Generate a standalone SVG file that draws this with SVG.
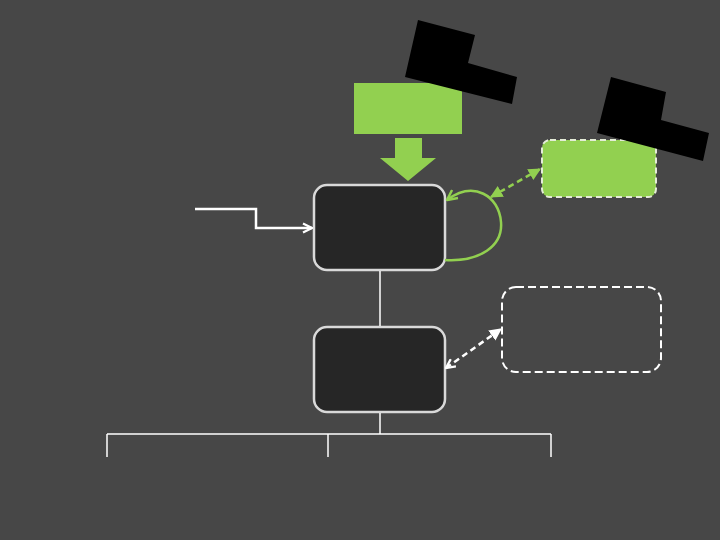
<svg xmlns="http://www.w3.org/2000/svg" width="720" height="540" viewBox="0 0 720 540">
  <defs>
    <style>
      .node { fill: #262626; stroke: #d9d9d9; stroke-width: 2.5; }
      .green { fill: #92d050; }
      .blk { fill: #000000; }
      .wline { fill: none; stroke: #ffffff; stroke-width: 1.5; }
      .conn { fill: none; stroke: #ffffff; stroke-width: 2.5; }
    </style>
    <marker id="openW" viewBox="0 0 10 10" refX="9" refY="5" markerWidth="4.5" markerHeight="4.5" orient="auto-start-reverse">
      <path d="M1,1 L9,5 L1,9" fill="none" stroke="#ffffff" stroke-width="2"/>
    </marker>
    <marker id="openG" viewBox="0 0 10 10" refX="9" refY="5" markerWidth="5" markerHeight="5" orient="auto-start-reverse">
      <path d="M1,1 L9,5 L1,9" fill="none" stroke="#92d050" stroke-width="2"/>
    </marker>
    <marker id="triG" viewBox="0 0 10 10" refX="9" refY="5" markerWidth="5" markerHeight="5" orient="auto-start-reverse">
      <path d="M0,0 L10,5 L0,10 Z" fill="#92d050"/>
    </marker>
    <marker id="triW" viewBox="0 0 10 10" refX="9" refY="5" markerWidth="5" markerHeight="5" orient="auto-start-reverse">
      <path d="M0,0 L10,5 L0,10 Z" fill="#ffffff"/>
    </marker>
  </defs>
  <rect width="720" height="540" fill="#474747"/>

  <g id="green-top">
    <rect class="green" x="354" y="83" width="108" height="51"/>
  </g>
  <g id="down-arrow">
    <polygon class="green" points="395,138 422,138 422,158 436,158 408,181 380,158 395,158"/>
  </g>
  <g id="black-1">
    <polygon class="blk" points="418,20 475,35 468,63 517,77 512,104 405,77"/>
  </g>

  <g id="green-right">
    <rect x="542" y="140" width="114" height="57" rx="8" fill="#92d050" stroke="#e4ecd8" stroke-width="2" stroke-dasharray="6 4"/>
  </g>
  <g id="black-2">
    <polygon class="blk" points="611,77 666,92 661,120 709,133 703,161 597,133"/>
  </g>

  <g id="node1">
    <rect class="node" x="314" y="185" width="131" height="85" rx="13"/>
  </g>
  <g id="node2">
    <rect class="node" x="314" y="327" width="131" height="85" rx="13"/>
  </g>
  <g id="dashed-box">
    <rect x="502" y="287" width="159" height="85" rx="14" fill="none" stroke="#ffffff" stroke-width="2" stroke-dasharray="8 4"/>
  </g>

  <g id="connectors">
    <path class="conn" d="M195,209 L256,209 L256,228 L312,228" marker-end="url(#openW)"/>
    <path fill="none" stroke="#92d050" stroke-width="2.5" d="M445,260 C480,262 503,246 501,222 C499,196 474,180 447,200" marker-end="url(#openG)"/>
    <path fill="none" stroke="#92d050" stroke-width="2.5" stroke-dasharray="6 4" d="M491,197 L540,169" marker-start="url(#triG)" marker-end="url(#triG)"/>
    <path fill="none" stroke="#ffffff" stroke-width="2.5" stroke-dasharray="6 4" d="M446,368 L501,329" marker-start="url(#openW)" marker-end="url(#triW)"/>
    <line class="wline" x1="380" y1="271" x2="380" y2="326"/>
    <path class="wline" d="M380,413 L380,434 M107,434 L551,434 M107,434 L107,457 M328,434 L328,457 M551,434 L551,457"/>
  </g>
</svg>
